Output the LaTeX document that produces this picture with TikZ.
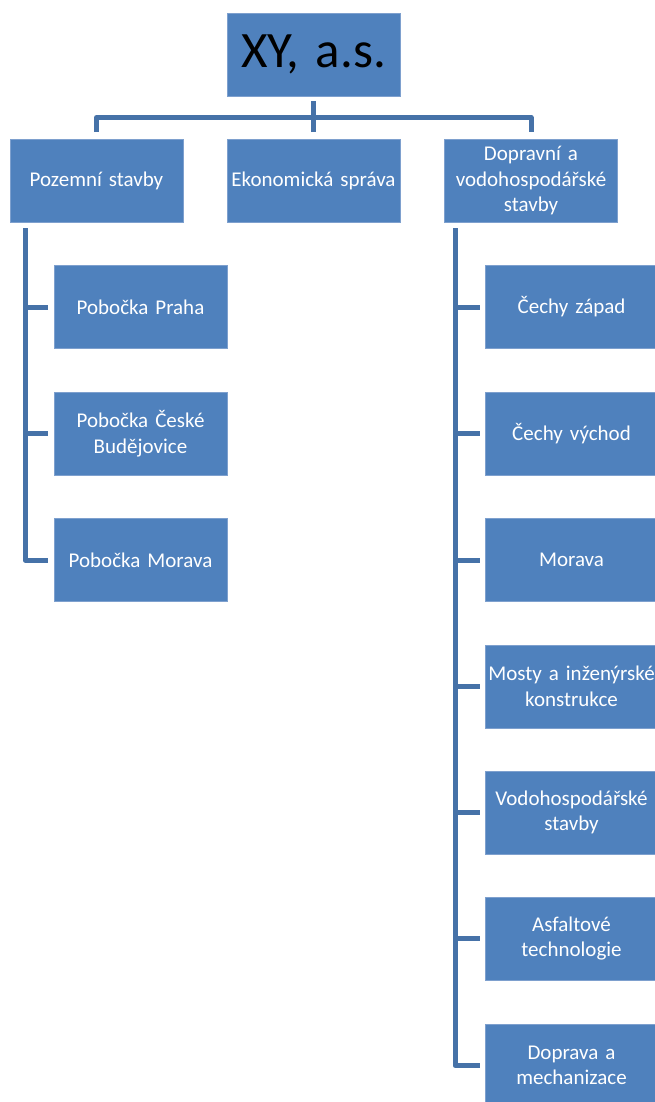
\documentclass[tikz,border=0pt]{standalone}
\usepackage{fontspec}
\setmainfont{Carlito}
\usetikzlibrary{%
  calc,%
  positioning%
}
\definecolor{boxblue}{RGB}{79,129,189}
\definecolor{boxedge}{RGB}{126,160,206}
\definecolor{lineblue}{RGB}{70,114,168}
\tikzset{
  box/.style={fill=boxblue,draw=boxedge,line width=0.6pt,text=white,
    minimum width=173pt,minimum height=83pt,text width=168pt,inner sep=0pt,
    align=center,font=\fontsize{21}{25.5}\selectfont},
  spoj/.style={draw=lineblue,line width=5pt,line join=round}
}

\begin{document}
\begin{tikzpicture}[x=1pt,y=-1pt]
  \useasboundingbox (0,0) rectangle (654,1102);
  \node[box,text=black,font=\fontsize{51}{60}\selectfont] (xy) at (313.5,54.5) {XY, a.s.};
  \node[box] (pozemni) at (96.5,181) {Pozemní stavby};
  \node[box] (ekonom) at (313.5,181) {Ekonomická správa};
  \node[box] (doprav) at (531,181) {Dopravní a\\vodohospodářské\\stavby};
  % leva vetev
  \node[box] (praha) at (140.5,307) {Pobočka Praha};
  \node[box] (budej) at (140.5,433.5) {Pobočka České\\Budějovice};
  \node[box] (morava) at (140.5,560) {Pobočka Morava};
  % prava vetev
  \node[box] (zapad) at (571.5,307) {Čechy západ};
  \node[box] (vychod) at (571.5,433.5) {Čechy východ};
  \node[box] (moravad) at (571.5,560) {Morava};
  \node[box] (mosty) at (571.5,686.5) {Mosty a inženýrské\\konstrukce};
  \node[box] (vodo) at (571.5,812.5) {Vodohospodářské\\stavby};
  \node[box] (asfalt) at (571.5,938.5) {Asfaltové\\technologie};
  \node[box] (mechan) at (571.5,1065.5) {Doprava a\\mechanizace};

  \coordinate (bar) at (313.5,117.5);
  \draw[spoj] ([yshift=-5pt]xy.south) -- (xy.south |- bar);
  \draw[spoj] ([yshift=7pt]pozemni.north) -- (pozemni.north |- bar)
    -- (doprav.north |- bar) -- ([yshift=7pt]doprav.north);
  \draw[spoj] ([yshift=7pt]ekonom.north) -- (ekonom.north |- bar);

  \coordinate (lt) at (25,228);
  \draw[spoj] (lt) |- ([xshift=-6pt]morava.west);
  \draw[spoj] (lt |- praha.west) -- ([xshift=-6pt]praha.west);
  \draw[spoj] (lt |- budej.west) -- ([xshift=-6pt]budej.west);

  \coordinate (rt) at (455,228);
  \draw[spoj] (rt) |- ([xshift=-5pt]mechan.west);
  \draw[spoj] (rt |- zapad.west) -- ([xshift=-5pt]zapad.west);
  \draw[spoj] (rt |- vychod.west) -- ([xshift=-5pt]vychod.west);
  \draw[spoj] (rt |- moravad.west) -- ([xshift=-5pt]moravad.west);
  \draw[spoj] (rt |- mosty.west) -- ([xshift=-5pt]mosty.west);
  \draw[spoj] (rt |- vodo.west) -- ([xshift=-5pt]vodo.west);
  \draw[spoj] (rt |- asfalt.west) -- ([xshift=-5pt]asfalt.west);
\end{tikzpicture}
\end{document}
